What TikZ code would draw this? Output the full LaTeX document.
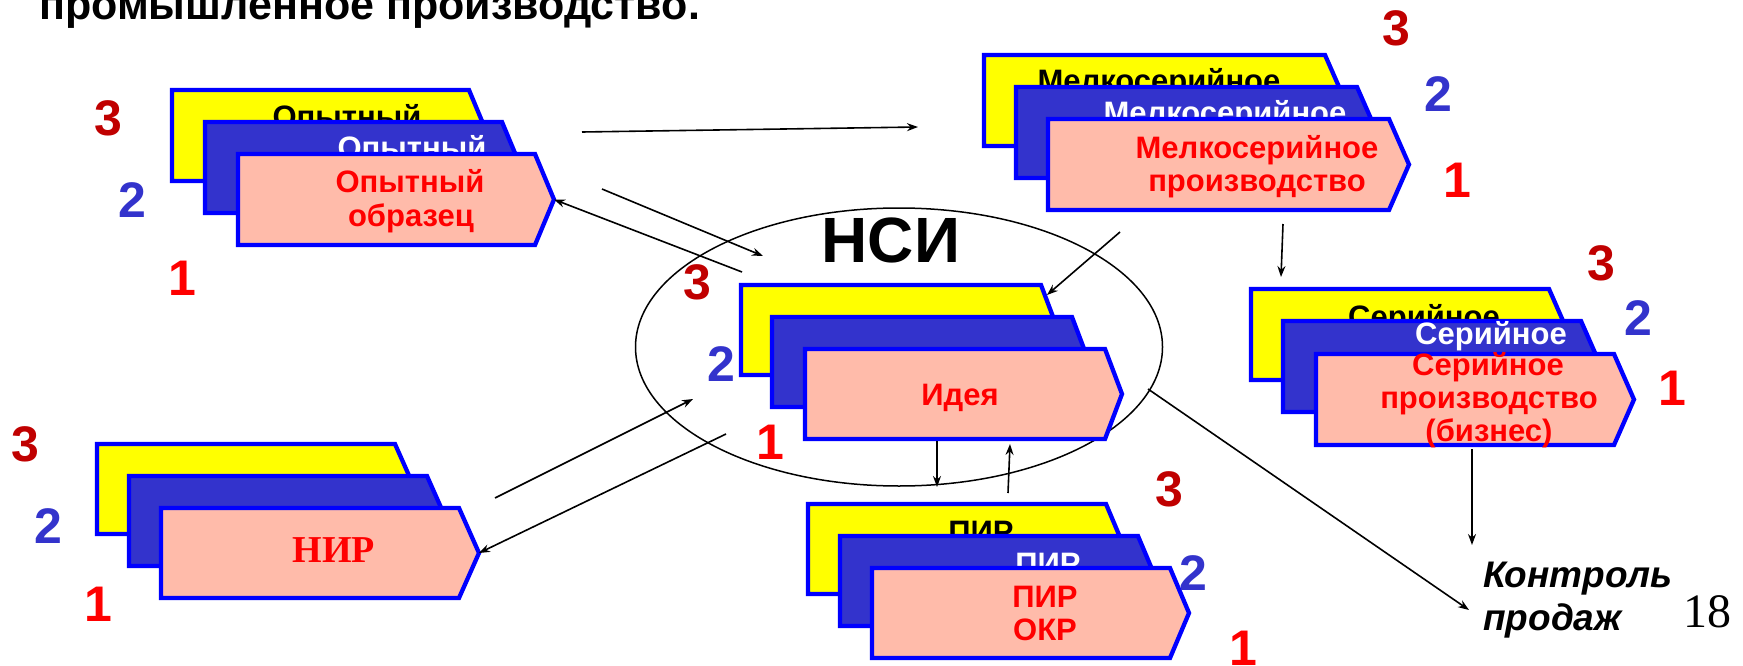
\documentclass[tikz,border=0pt]{standalone}
\usepackage{fontspec}
\setmainfont{Liberation Sans}
\newfontfamily\timesfont{Liberation Serif}
\usetikzlibrary{arrows.meta}

\definecolor{boxyellow}{HTML}{FFFF00}
\definecolor{boxblue}{HTML}{3333CC}
\definecolor{boxpink}{HTML}{FFBBAA}
\definecolor{edgeblue}{HTML}{0000FF}
\definecolor{numthree}{HTML}{C00000}
\definecolor{numtwo}{HTML}{3333CC}
\definecolor{numone}{HTML}{FF0000}
\definecolor{labelred}{HTML}{FF0000}

\newcommand\fsz[1]{\fontsize{#1}{#1}\selectfont}

% pentagon-shaped stage card: name, x, y, rect width, tip depth, height, fill
\newcommand\stagecard[7]{%
  \path[cardedge, fill=#7] (#2,#3) coordinate (#1-nw)
    -- ++(#4,0) coordinate (#1-ne)
    -- ++(#5,#6/2) coordinate (#1-tip)
    -- ++(-#5,#6/2) coordinate (#1-se)
    -- ++(-#4,0) coordinate (#1-sw) -- cycle;}

\tikzset{
  cardedge/.style={draw=edgeblue, line width=4.3pt, line join=miter},
  lbl/.style={inner sep=0pt, anchor=base, font=\fsz{31}\bfseries},
  num/.style={inner sep=0pt, anchor=base, font=\fsz{50}\bfseries},
  arr/.style={line width=1.6pt, -{Stealth[length=11pt,width=8pt]}},
}

\begin{document}
\begin{tikzpicture}[x=1pt,y=-1pt]
\useasboundingbox (0,0) rectangle (1743,666);

% heading line
\node[inner sep=0pt, anchor=base west, font=\fsz{43}\bfseries] (title) at (39,20) {промышленное производство.};

% НСИ ring
\draw[line width=1.5pt] (899,347) ellipse [x radius=263.5, y radius=139];
\node[inner sep=0pt, anchor=base, font=\fsz{64}\bfseries] (nsi) at (891,262) {НСИ};

% Опытный образец
\stagecard{opY}{172}{90}{297}{19}{91}{boxyellow}
\node[lbl, text=black] (opYt) at (347,128) {Опытный};
\stagecard{opB}{205}{122}{297}{19}{91}{boxblue}
\node[lbl, text=white] (opBt) at (412,159) {Опытный};
\stagecard{opP}{238}{154}{297}{19}{91}{boxpink}
\node[lbl, text=labelred] (opPa) at (410,192) {Опытный};
\node[lbl, text=labelred] (opPb) at (411,226) {образец};
\node[num, text=numthree] (op3) at (108,136) {3};
\node[num, text=numtwo] (op2) at (132,217) {2};
\node[num, text=numone] (op1) at (182,295) {1};

% Мелкосерийное производство
\stagecard{msY}{984}{55}{341}{20}{91}{boxyellow}
\node[lbl, text=black] (msYt) at (1159,92) {Мелкосерийное};
\stagecard{msB}{1016}{87}{341}{20}{91}{boxblue}
\node[lbl, text=white] (msBt) at (1225,124) {Мелкосерийное};
\stagecard{msP}{1048}{119}{341}{20}{91}{boxpink}
\node[lbl, text=labelred] (msPa) at (1257,159) {Мелкосерийное};
\node[lbl, text=labelred] (msPb) at (1257,191) {производство};
\node[num, text=numthree] (ms3) at (1396,46) {3};
\node[num, text=numtwo] (ms2) at (1438,112) {2};
\node[num, text=numone] (ms1) at (1457,197) {1};

% Идея
\stagecard{idY}{741}{285}{300}{17}{90}{boxyellow}
\stagecard{idB}{772}{317}{300}{17}{90}{boxblue}
\stagecard{idP}{805}{349}{300}{17}{90}{boxpink}
\node[lbl, text=labelred] (idPt) at (960,405) {Идея};
\node[num, text=numthree] (id3) at (697,299) {3};
\node[num, text=numtwo] (id2) at (721,381) {2};
\node[num, text=numone] (id1) at (770,459) {1};

% Серийное производство
\stagecard{srY}{1251}{289}{298}{20}{91}{boxyellow}
\node[lbl, text=black] (srYt) at (1424,327) {Серийное};
\stagecard{srB}{1283}{321}{298}{20}{91}{boxblue}
\node[lbl, text=white] (srBt) at (1491,344) {Серийное};
\stagecard{srP}{1316}{354}{298}{20}{91}{boxpink}
\node[lbl, text=labelred] (srPa) at (1488,375) {Серийное};
\node[lbl, text=labelred] (srPb) at (1489,408) {производство};
\node[lbl, text=labelred] (srPc) at (1489,441) {(бизнес)};
\node[num, text=numthree] (sr3) at (1601,280) {3};
\node[num, text=numtwo] (sr2) at (1638,335) {2};
\node[num, text=numone] (sr1) at (1672,405) {1};

% НИР
\stagecard{nrY}{97}{444}{298}{20}{90}{boxyellow}
\stagecard{nrB}{129}{476}{298}{20}{90}{boxblue}
\stagecard{nrP}{161}{508}{298}{20}{90}{boxpink}
\node[inner sep=0pt, anchor=base, text=labelred, font=\timesfont\fsz{38}\bfseries] (nrPt) at (334,562) {НИР};
\node[num, text=numthree] (nr3) at (25,461) {3};
\node[num, text=numtwo] (nr2) at (48,543) {2};
\node[num, text=numone] (nr1) at (98,621) {1};

% ПИР / ОКР
\stagecard{prY}{808}{504}{298}{19}{90}{boxyellow}
\node[lbl, text=black] (prYt) at (981,542) {ПИР};
\stagecard{prB}{840}{536}{298}{19}{90}{boxblue}
\node[lbl, text=white] (prBt) at (1048,574) {ПИР};
\stagecard{prP}{872}{568}{298}{19}{90}{boxpink}
\node[lbl, text=labelred] (prPa) at (1045,607) {ПИР};
\node[lbl, text=labelred] (prPb) at (1045,640) {ОКР};
\node[num, text=numthree] (pr3) at (1169,506) {3};
\node[num, text=numtwo] (pr2) at (1193,590) {2};
\node[num, text=numone] (pr1) at (1243,665) {1};

% sales control and page number
\node[inner sep=0pt, anchor=base west, font=\fsz{37}\bfseries\itshape] (ctrlA) at (1483,587) {Контроль};
\node[inner sep=0pt, anchor=base west, font=\fsz{37}\bfseries\itshape] (ctrlB) at (1483,630) {продаж};
\node[inner sep=0pt, anchor=base, font=\timesfont\fsz{48}] (pageno) at (1707,627) {18};

% free ends of the connectors
\coordinate (a1s) at (582,132);  \coordinate (a1e) at (918,127);
\coordinate (a2s) at (602,189);  \coordinate (a2e) at (763,256);
\coordinate (a3s) at (742,272);
\coordinate (a4s) at (495,498);  \coordinate (a4e) at (693,399);
\coordinate (a5s) at (726,434);
\coordinate (a6s) at (1120,232); \coordinate (a6e) at (1047,295);
\coordinate (a7s) at (1283,224); \coordinate (a7e) at (1281,277);
\coordinate (a8s) at (1148,389); \coordinate (a8e) at (1469,610);
\coordinate (a9s) at (937,441);  \coordinate (a9e) at (937,487);
\coordinate (a10s) at (1008,493); \coordinate (a10e) at (1010,444);
\coordinate (a11s) at (1472,449); \coordinate (a11e) at (1472,545);

\draw[arr] (a1s) -- (a1e);
\draw[arr] (a2s) -- (a2e);
\draw[arr] (a3s) -- (opP-tip);
\draw[arr] (a4s) -- (a4e);
\draw[arr] (a5s) -- (nrP-tip);
\draw[arr] (a6s) -- (a6e);
\draw[arr] (a7s) -- (a7e);
\draw[arr] (a8s) -- (a8e);
\draw[arr] (a9s) -- (a9e);
\draw[arr] (a10s) -- (a10e);
\draw[arr] (a11s) -- (a11e);
\end{tikzpicture}
\end{document}
